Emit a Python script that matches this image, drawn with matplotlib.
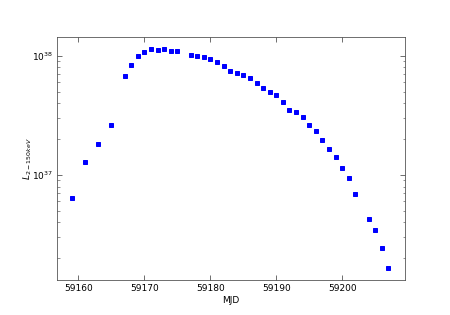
import numpy as np
import matplotlib
matplotlib.use("Agg")
import matplotlib.pyplot as plt

# MJD of each observation
mjd = [59159, 59161, 59163, 59165, 59167, 59168, 59169, 59170, 59171, 59172,
       59173, 59174, 59175, 59177, 59178, 59179, 59180, 59181, 59182, 59183,
       59184, 59185, 59186, 59187, 59188, 59189, 59190, 59191, 59192, 59193,
       59194, 59195, 59196, 59197, 59198, 59199, 59200, 59201, 59202, 59204,
       59205, 59206, 59207]

# log10 of the 2-150 keV luminosity (erg/s)
log_lum = [36.809, 37.112, 37.260, 37.418, 37.834, 37.927, 38.003, 38.034, 38.059, 38.053,
           38.061, 38.042, 38.039, 38.008, 38.003, 37.992, 37.975, 37.947, 37.918, 37.876,
           37.855, 37.843, 37.813, 37.776, 37.731, 37.695, 37.672, 37.611, 37.549, 37.529,
           37.485, 37.418, 37.370, 37.294, 37.218, 37.149, 37.059, 36.975, 36.843, 36.633,
           36.540, 36.387, 36.221]

lum = 10 ** np.array(log_lum)

fig = plt.figure(figsize=(6.25, 4.375), dpi=72)
ax = fig.add_axes([0.126, 0.111, 0.773, 0.771])

ax.plot(mjd, lum, 's', color='blue', markeredgecolor='blue', markersize=4.5)

ax.set_yscale('log')
ax.set_xlim(59156.7, 59209.45)
ax.set_ylim(10 ** 36.118, 10 ** 38.157)

ax.set_xlabel('MJD', fontsize=9, labelpad=3)
ax.set_ylabel(r'$L_{2-150keV}$', fontsize=9, labelpad=-2)

ax.tick_params(which='both', direction='in', top=True, right=True, labelsize=9, color='0.3')
ax.tick_params(which='major', length=5)
ax.tick_params(which='minor', length=2.5)
for sp in ax.spines.values():
    sp.set_color('0.3')

fig.savefig('out.png', dpi=72, facecolor='white')
